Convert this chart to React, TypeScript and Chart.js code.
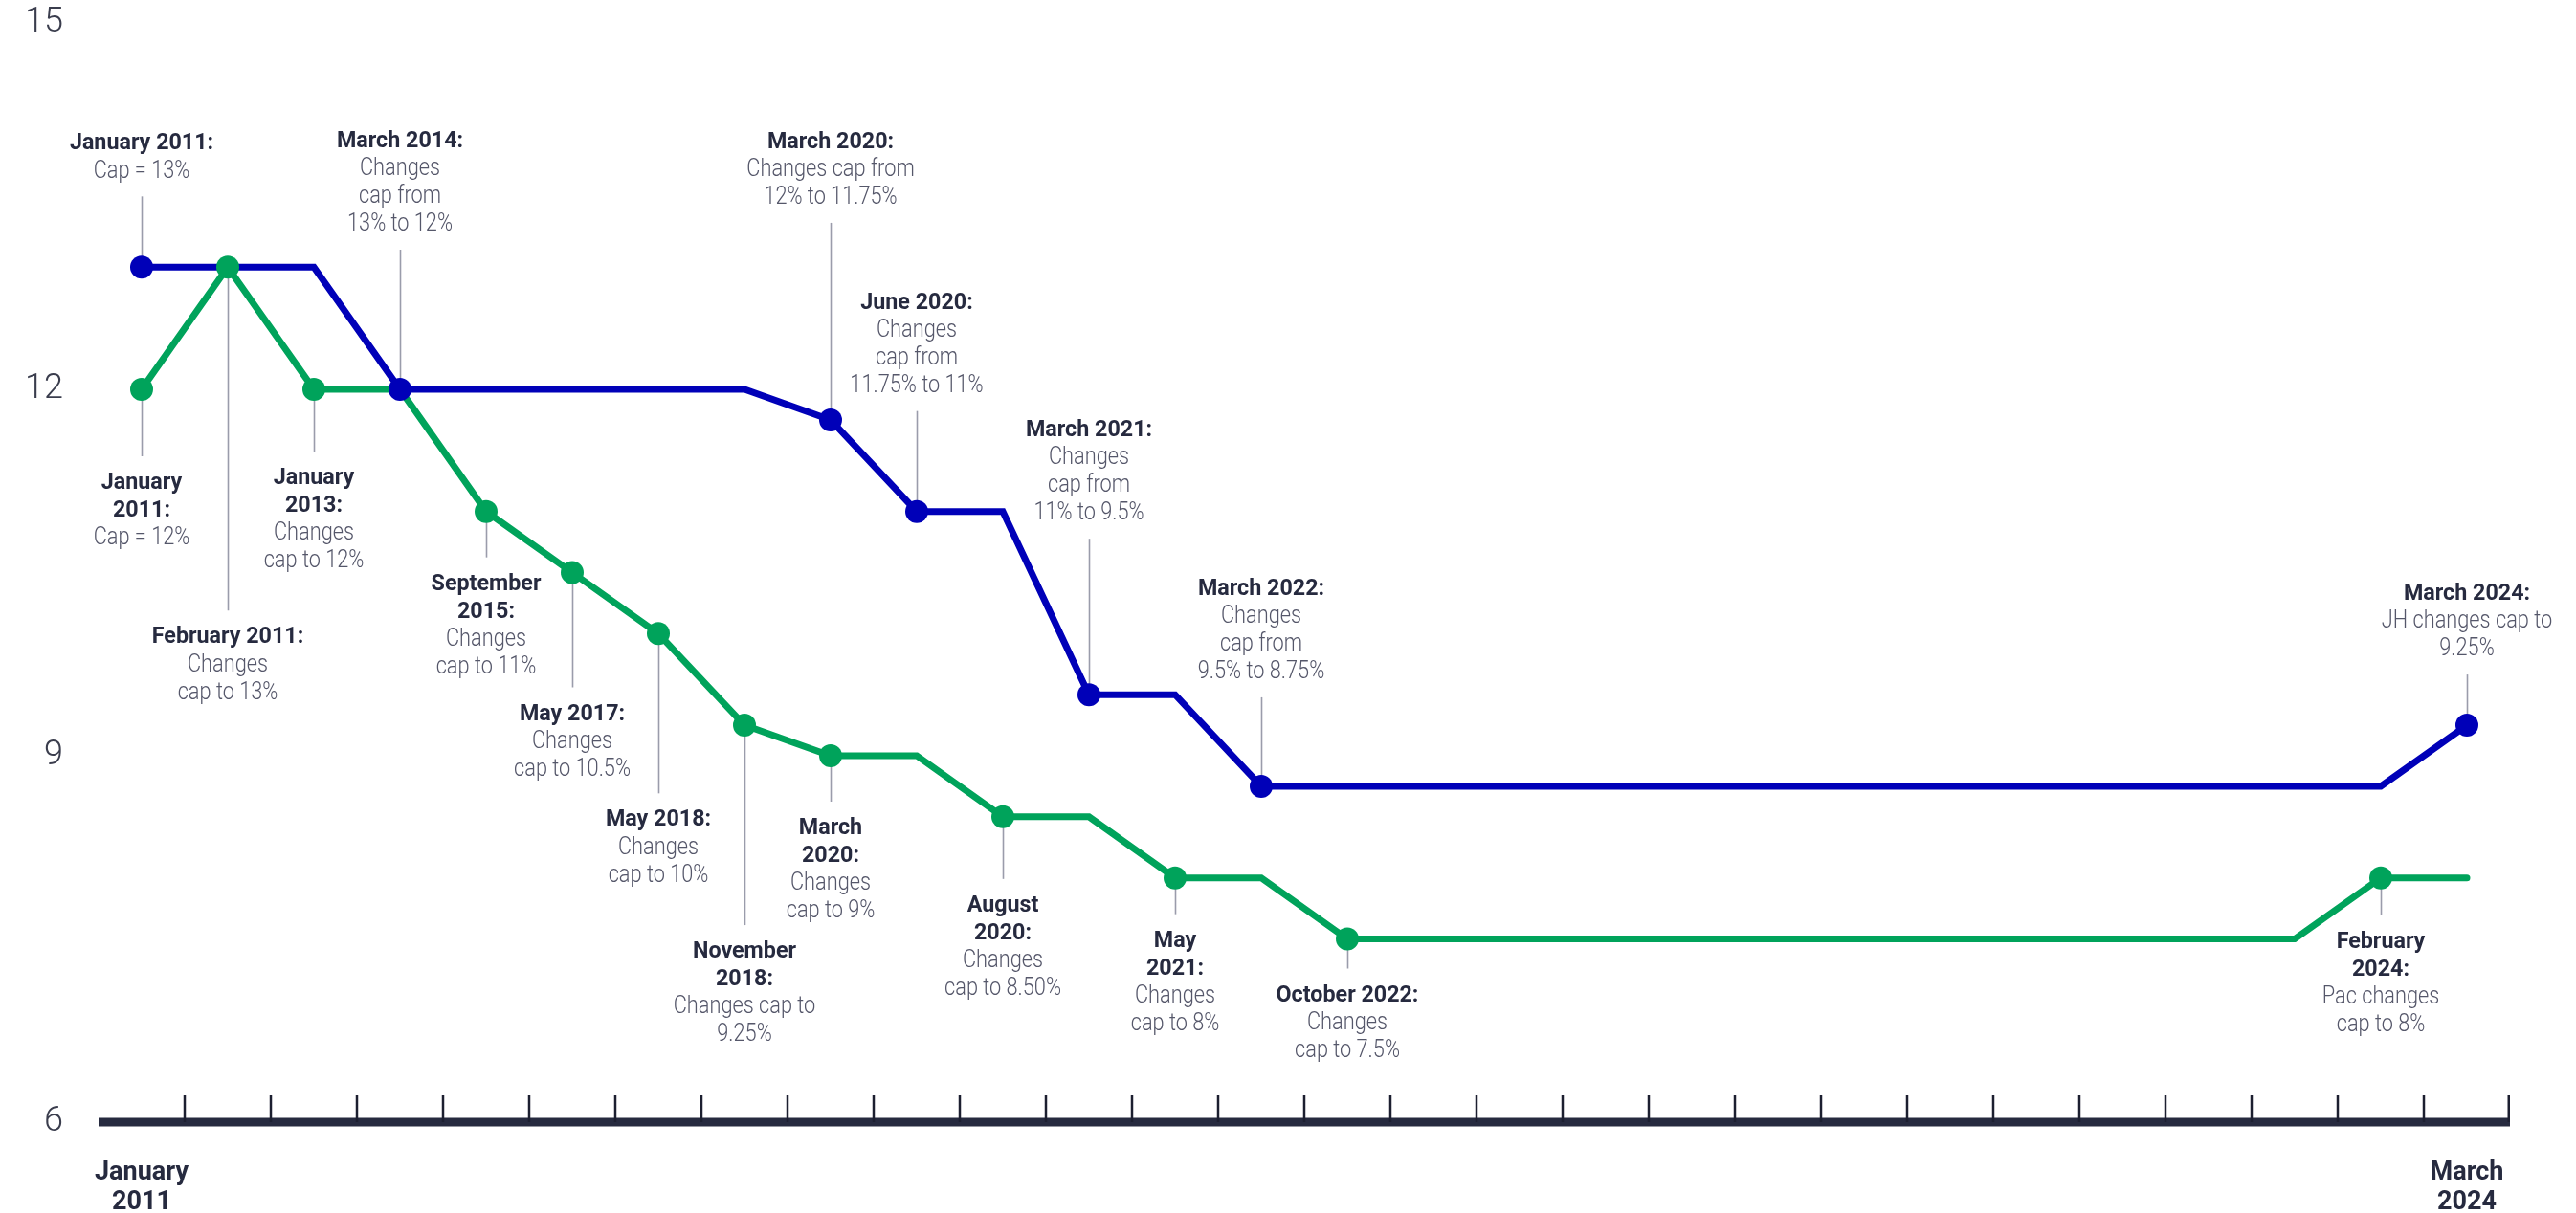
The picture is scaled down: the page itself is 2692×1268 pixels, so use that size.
import React, { useEffect, useRef } from "react";
import { Chart, registerables } from "chart.js";

Chart.register(...registerables);

// ---- data ----
const SLOTS: string[] = [
  "Jan 2011", "Feb 2011", "Jan 2013", "Mar 2014", "Sep 2015", "May 2017", "May 2018",
  "Nov 2018", "Mar 2020", "Jun 2020", "Aug 2020", "Mar 2021", "May 2021", "Mar 2022",
  "Oct 2022", "", "", "", "", "", "", "", "", "", "", "", "Feb 2024", "Mar 2024",
];

const X_TICK_LABELS: (string | string[])[] = SLOTS.map((_, i) =>
  i === 0 ? ["January", "2011"] : i === SLOTS.length - 1 ? ["March", "2024"] : ""
);

const BLUE_VALUES: number[] = [
  13, 13, 13, 12, 12, 12, 12, 12, 11.75, 11, 11, 9.5, 9.5, 8.75,
  8.75, 8.75, 8.75, 8.75, 8.75, 8.75, 8.75, 8.75, 8.75, 8.75, 8.75, 8.75, 8.75, 9.25,
];
const GREEN_VALUES: number[] = [
  12, 13, 12, 12, 11, 10.5, 10, 9.25, 9, 9, 8.5, 8.5, 8, 8,
  7.5, 7.5, 7.5, 7.5, 7.5, 7.5, 7.5, 7.5, 7.5, 7.5, 7.5, 7.5, 8, 8,
];

const BLUE_EVENTS: number[] = [0, 3, 8, 9, 11, 13, 27];
const GREEN_EVENTS: number[] = [0, 1, 2, 4, 5, 6, 7, 8, 10, 12, 14, 26];

const Y_TICKS: number[] = [6, 9, 12, 15];

const BLUE_NOTES: { title: string[]; body: string[] }[] = [
  { title: ["January 2011:"], body: ["Cap = 13%"] },
  { title: ["March 2014:"], body: ["Changes", "cap from", "13% to 12%"] },
  { title: ["March 2020:"], body: ["Changes cap from", "12% to 11.75%"] },
  { title: ["June 2020:"], body: ["Changes", "cap from", "11.75% to 11%"] },
  { title: ["March 2021:"], body: ["Changes", "cap from", "11% to 9.5%"] },
  { title: ["March 2022:"], body: ["Changes", "cap from", "9.5% to 8.75%"] },
  { title: ["March 2024:"], body: ["JH changes cap to", "9.25%"] },
];
const GREEN_NOTES: { title: string[]; body: string[] }[] = [
  { title: ["January", "2011:"], body: ["Cap = 12%"] },
  { title: ["February 2011:"], body: ["Changes", "cap to 13%"] },
  { title: ["January", "2013:"], body: ["Changes", "cap to 12%"] },
  { title: ["September", "2015:"], body: ["Changes", "cap to 11%"] },
  { title: ["May 2017:"], body: ["Changes", "cap to 10.5%"] },
  { title: ["May 2018:"], body: ["Changes", "cap to 10%"] },
  { title: ["November", "2018:"], body: ["Changes cap to", "9.25%"] },
  { title: ["March", "2020:"], body: ["Changes", "cap to 9%"] },
  { title: ["August", "2020:"], body: ["Changes", "cap to 8.50%"] },
  { title: ["May", "2021:"], body: ["Changes", "cap to 8%"] },
  { title: ["October 2022:"], body: ["Changes", "cap to 7.5%"] },
  { title: ["February", "2024:"], body: ["Pac changes", "cap to 8%"] },
];

// ---- layout / style (px) ----
const BLUE_LEADER: number[] = [74, 146, 206, 105, 163, 93, 53];
const GREEN_LEADER: number[] = [70, 359, 65, 48, 120, 167, 209, 48, 65, 38, 31, 39];

const BLUE = "#0000B8";
const GREEN = "#00A35B";
const DARK = "#262a3f";
const GREY_TEXT = "#55576a";
const LEADER = "#9a9cab";
const LINE_H = 29;
const DOT_R = 12;

const notesPlugin = {
  id: "notes",
  beforeDatasetsDraw(chart: any) {
    const { ctx, scales } = chart;
    const x = scales.x;
    const y = scales.y;
    ctx.save();
    ctx.strokeStyle = LEADER;
    ctx.lineWidth = 1.6;
    const drawLeader = (idx: number, val: number, len: number, dir: number) => {
      const px = Math.round(x.getPixelForValue(idx)) + 0.5;
      const py = y.getPixelForValue(val);
      ctx.beginPath();
      ctx.moveTo(px, py);
      ctx.lineTo(px, py + dir * len);
      ctx.stroke();
    };
    BLUE_EVENTS.forEach((idx, i) => drawLeader(idx, BLUE_VALUES[idx], BLUE_LEADER[i], -1));
    GREEN_EVENTS.forEach((idx, i) => drawLeader(idx, GREEN_VALUES[idx], GREEN_LEADER[i], 1));
    ctx.restore();
  },
  afterDatasetsDraw(chart: any) {
    const { ctx, scales, chartArea } = chart;
    const x = scales.x;
    const y = scales.y;
    ctx.save();
    // axis line
    ctx.fillStyle = DARK;
    ctx.fillRect(chartArea.left, chartArea.bottom - 4.5, chartArea.right - chartArea.left, 9);
    // upward tick marks at category boundaries
    ctx.strokeStyle = "#1c1f30";
    ctx.lineWidth = 2.5;
    const n = SLOTS.length;
    for (let k = 0; k < n; k++) {
      const px = k < n - 1
        ? (x.getPixelForValue(k) + x.getPixelForValue(k + 1)) / 2
        : chartArea.right - 1.25;
      ctx.beginPath();
      ctx.moveTo(px, chartArea.bottom);
      ctx.lineTo(px, chartArea.bottom - 28);
      ctx.stroke();
    }

    const drawText = (lines: string[], bold: number, cx: number, firstY: number) => {
      ctx.textAlign = "center";
      ctx.textBaseline = "middle";
      lines.forEach((line, j) => {
        const isBold = j < bold;
        ctx.save();
        ctx.translate(cx, firstY + j * LINE_H);
        if (isBold) {
          ctx.font = "bold 24px Roboto";
          ctx.fillStyle = DARK;
          ctx.scale(0.97, 1);
        } else {
          ctx.font = "300 25px Roboto";
          ctx.fillStyle = GREY_TEXT;
          ctx.scale(0.87, 1);
        }
        ctx.fillText(line, 0, 0);
        ctx.restore();
      });
    };

    BLUE_EVENTS.forEach((idx, i) => {
      const note = BLUE_NOTES[i];
      const lines = [...note.title, ...note.body];
      const px = x.getPixelForValue(idx);
      const py = y.getPixelForValue(BLUE_VALUES[idx]);
      const lastY = py - BLUE_LEADER[i] - 26;
      drawText(lines, note.title.length, px, lastY - (lines.length - 1) * LINE_H);
    });
    GREEN_EVENTS.forEach((idx, i) => {
      const note = GREEN_NOTES[i];
      const lines = [...note.title, ...note.body];
      const px = x.getPixelForValue(idx);
      const py = y.getPixelForValue(GREEN_VALUES[idx]);
      drawText(lines, note.title.length, px, py + GREEN_LEADER[i] + 28);
    });
    ctx.restore();
  },
};

export default function App() {
  const canvasRef = useRef<HTMLCanvasElement | null>(null);

  useEffect(() => {
    if (!canvasRef.current) return;
    const blueDots = BLUE_VALUES.map((v, i) => (BLUE_EVENTS.includes(i) ? v : null));
    const greenDots = GREEN_VALUES.map((v, i) => (GREEN_EVENTS.includes(i) ? v : null));
    const chart = new Chart(canvasRef.current, {
      type: "line",
      data: {
        labels: SLOTS,
        datasets: [
          {
            label: "JH events",
            data: blueDots,
            showLine: false,
            pointRadius: DOT_R,
            pointHoverRadius: DOT_R,
            pointBackgroundColor: BLUE,
            pointBorderWidth: 0,
            borderColor: BLUE,
          },
          {
            label: "Pac events",
            data: greenDots,
            showLine: false,
            pointRadius: DOT_R,
            pointHoverRadius: DOT_R,
            pointBackgroundColor: GREEN,
            pointBorderWidth: 0,
            borderColor: GREEN,
          },
          {
            label: "JH",
            data: BLUE_VALUES,
            borderColor: BLUE,
            borderWidth: 7,
            pointRadius: 0,
            borderCapStyle: "round",
            tension: 0,
          },
          {
            label: "Pac",
            data: GREEN_VALUES,
            borderColor: GREEN,
            borderWidth: 7,
            pointRadius: 0,
            borderCapStyle: "round",
            tension: 0,
          },
        ],
      },
      options: {
        animation: false,
        responsive: true,
        maintainAspectRatio: false,
        layout: { padding: { top: 24, right: 69, left: 0, bottom: 0 } },
        plugins: {
          legend: { display: false },
          tooltip: { enabled: false },
        },
        scales: {
          x: {
            type: "category",
            offset: true,
            grid: { display: false, offset: true },
            border: { display: false },
            ticks: {
              autoSkip: false,
              maxRotation: 0,
              minRotation: 0,
              padding: 30,
              color: DARK,
              font: { family: "Roboto", weight: "bold", size: 27, lineHeight: 1.15 },
              callback: (_v: any, i: number) => X_TICK_LABELS[i],
            },
            afterFit: (s: any) => {
              s.height = 95;
              s.paddingLeft = 0;
              s.paddingRight = 0;
              s.paddingTop = 0;
              s.paddingBottom = 0;
            },
          },
          y: {
            min: 6,
            max: 15,
            afterBuildTicks: (s: any) => {
              s.ticks = Y_TICKS.map((v) => ({ value: v }));
            },
            grid: { display: false },
            border: { display: false },
            ticks: {
              padding: 29,
              color: "#3a3d4d",
              font: { family: "Roboto", weight: "300", size: 36 },
            },
            afterFit: (s: any) => {
              s.width = 103;
              s.paddingTop = 0;
              s.paddingBottom = 0;
              s.paddingLeft = 0;
              s.paddingRight = 0;
            },
          },
        },
      },
      plugins: [notesPlugin],
    });
    return () => chart.destroy();
  }, []);

  return (
    <div style={{ position: "fixed", left: 0, top: 0, width: 2692, height: 1268, background: "#fff" }}>
      <canvas ref={canvasRef} />
    </div>
  );
}
